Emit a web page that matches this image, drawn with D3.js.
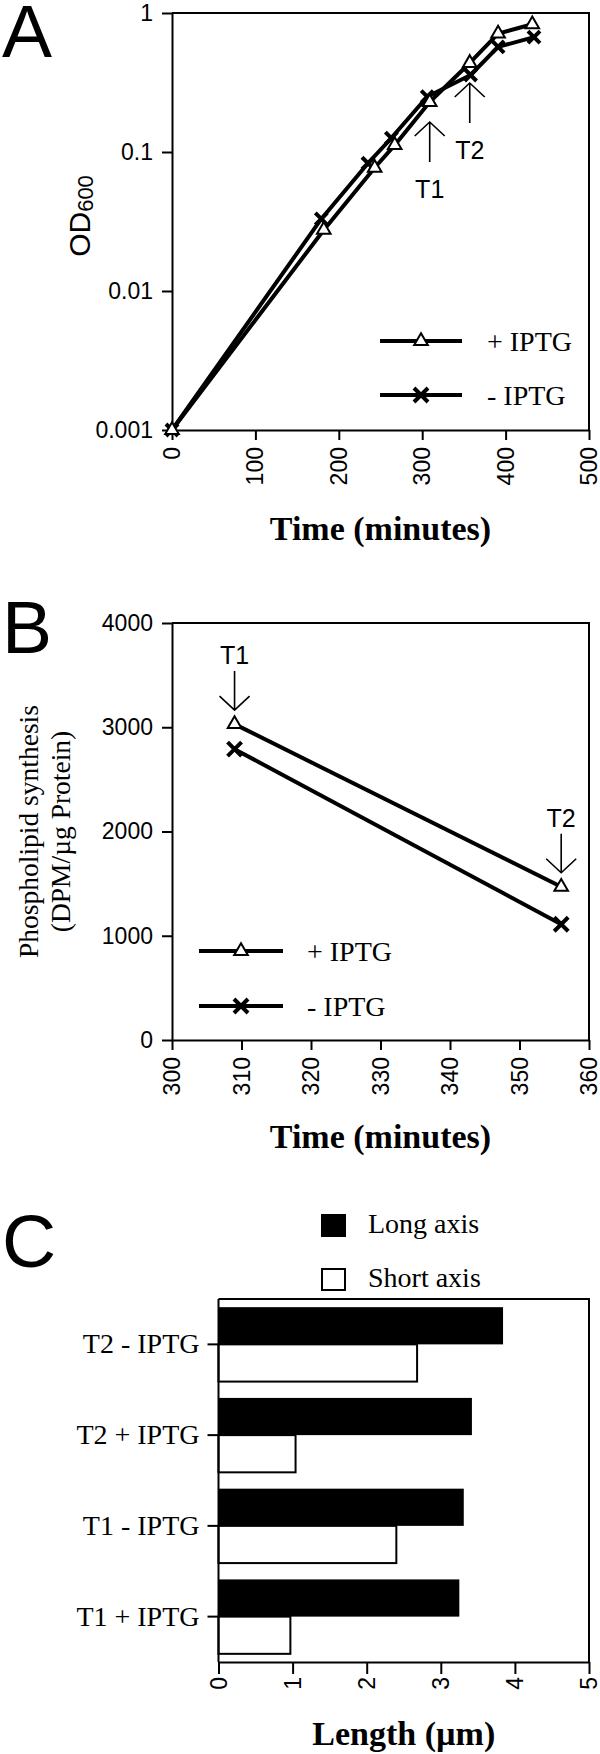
<!DOCTYPE html>
<html>
<head>
<meta charset="utf-8">
<script src="https://cdn.jsdelivr.net/npm/d3@7"></script>
<style>
  body { margin: 0; background: #fff; }
</style>
</head>
<body>
<div id="chart"></div>
<script>
// ---- data ----
var growthTimePlus  = [0, 182, 243, 267, 309, 357, 391, 432];
var growthODPlus    = [0.001, 0.0275, 0.077, 0.112, 0.229, 0.437, 0.71, 0.83];
var growthTimeMinus = [0, 179, 235, 263, 306, 358, 391, 434];
var growthODMinus   = [0.001, 0.033, 0.083, 0.126, 0.25, 0.358, 0.57, 0.67];
var odTicks = [0.001, 0.01, 0.1, 1];
var timeTicksA = [0, 100, 200, 300, 400, 500];

var synthTime  = [309, 356];
var synthPlus  = [3030, 1470];
var synthMinus = [2790, 1110];
var synthTicks = [0, 1000, 2000, 3000, 4000];
var timeTicksB = [300, 310, 320, 330, 340, 350, 360];

var cellGroups = ["T2 - IPTG", "T2 + IPTG", "T1 - IPTG", "T1 + IPTG"];
var longAxis   = [3.84, 3.42, 3.31, 3.25];
var shortAxis  = [2.68, 1.04, 2.40, 0.97];
var lengthTicks = [0, 1, 2, 3, 4, 5];

var seriesNames = ["+ IPTG", "- IPTG"];
var barNames = ["Long axis", "Short axis"];

// ---- layout ----
var svgWidth = 600, svgHeight = 1754;
var plotLeft = 172, plotRight = 589;
var aTop = 13, aBottom = 430;
var bTop = 623, bBottom = 1040;
var cLeft = 218.5, cTop = 1299, cBottom = 1662;

var sans = "'Liberation Sans', Arial, sans-serif";
var serif = "'Liberation Serif', 'Times New Roman', serif";
var intFmt = d3.format("d");

var svg = d3.select("#chart")
    .append("svg")
    .attr("width", svgWidth)
    .attr("height", svgHeight);

function styleAxis(g, tickFont, tickSize) {
    g.select(".domain").attr("stroke-width", 2);
    g.selectAll(".tick line").attr("stroke-width", 2);
    g.selectAll(".tick text")
        .attr("font-family", tickFont)
        .attr("font-size", tickSize)
        .attr("fill", "#000");
}

function rotateLabels(g, gap) {
    g.selectAll(".tick text")
        .attr("transform", "rotate(-90)")
        .attr("text-anchor", "end")
        .attr("x", -gap)
        .attr("y", 0)
        .attr("dy", "0.33em");
}

function frame(x1, y1, x2, y2) {
    svg.append("path")
        .attr("d", `M${x1},${y1}H${x2}V${y2}`)
        .attr("fill", "none")
        .attr("stroke", "#000")
        .attr("stroke-width", 2);
}

function crossPath(s) {
    return `M${-s},${-s}L${s},${s}M${-s},${s}L${s},${-s}`;
}
var triangle = d3.symbol().type(d3.symbolTriangle).size(80);

function drawTriangle(g, x, y) {
    g.append("path")
        .attr("d", triangle())
        .attr("transform", `translate(${x},${y})`)
        .attr("fill", "#fff")
        .attr("stroke", "#000")
        .attr("stroke-width", 2);
}
function drawCross(g, x, y, s) {
    g.append("path")
        .attr("d", crossPath(s))
        .attr("transform", `translate(${x},${y})`)
        .attr("stroke", "#000")
        .attr("stroke-width", 4);
}

function panelLabel(txt, y) {
    svg.append("text")
        .attr("x", 2).attr("y", y)
        .attr("font-family", sans)
        .attr("font-size", 75)
        .text(txt);
}

function arrow(g, x, yTail, yTip) {
    var dir = yTip > yTail ? -1 : 1;
    g.append("path")
        .attr("d", `M${x},${yTail}V${yTip}M${x - 15},${yTip + dir * 14}L${x},${yTip}L${x + 15},${yTip + dir * 14}`)
        .attr("fill", "none")
        .attr("stroke", "#000")
        .attr("stroke-width", 1.6);
}

function legendRow(x1, x2, y, kind, label, textX) {
    var g = svg.append("g");
    g.append("line")
        .attr("x1", x1).attr("x2", x2)
        .attr("y1", y).attr("y2", y)
        .attr("stroke", "#000").attr("stroke-width", 4);
    if (kind === "tri") drawTriangle(g, (x1 + x2) / 2, y);
    else drawCross(g, (x1 + x2) / 2, y, 7);
    g.append("text")
        .attr("x", textX).attr("y", y)
        .attr("dy", "0.35em")
        .attr("font-family", serif)
        .attr("font-size", 28)
        .text(label);
}

// ================= Panel A =================
var xA = d3.scaleLinear().domain([0, 500]).range([plotLeft, plotRight]);
var yA = d3.scaleLog().domain([0.001, 1]).range([aBottom, aTop]);

frame(plotLeft, aTop, plotRight, aBottom);

var axA = svg.append("g")
    .attr("transform", `translate(0,${aBottom})`)
    .call(d3.axisBottom(xA).tickValues(timeTicksA).tickFormat(intFmt).tickSize(10).tickSizeOuter(0));
styleAxis(axA, sans, 23);
rotateLabels(axA, 17);

var ayA = svg.append("g")
    .attr("transform", `translate(${plotLeft},0)`)
    .call(d3.axisLeft(yA).tickValues(odTicks).tickFormat(d => String(d)).tickSize(10).tickPadding(9).tickSizeOuter(0));
styleAxis(ayA, sans, 23);

var plusA = growthTimePlus.map((t, i) => [t, growthODPlus[i]]);
var minusA = growthTimeMinus.map((t, i) => [t, growthODMinus[i]]);
var lineA = d3.line().x(d => xA(d[0])).y(d => yA(d[1]));

var gA = svg.append("g");
[minusA, plusA].forEach(function (s) {
    gA.append("path")
        .attr("d", lineA(s))
        .attr("fill", "none")
        .attr("stroke", "#000")
        .attr("stroke-width", 4)
        .attr("stroke-linejoin", "round");
});
minusA.forEach(d => drawCross(gA, xA(d[0]), yA(d[1]), 6));
plusA.forEach(d => drawTriangle(gA, xA(d[0]), yA(d[1])));

// T1 / T2 arrows (pointing up at the sampling times)
[[4, "T1"], [5, "T2"]].forEach(function (a) {
    var x = xA(growthTimePlus[a[0]]);
    var tip = yA(growthODPlus[a[0]]) + 20;
    arrow(gA, x, tip + 40, tip);
    gA.append("text")
        .attr("x", x).attr("y", tip + 76)
        .attr("text-anchor", "middle")
        .attr("font-family", sans)
        .attr("font-size", 25)
        .text(a[1]);
});

legendRow(380, 462, 341, "tri", seriesNames[0], 487);
legendRow(380, 462, 395, "x", seriesNames[1], 487);

var odTitle = svg.append("text")
    .attr("transform", `translate(90,216) rotate(-90)`)
    .attr("text-anchor", "middle")
    .attr("font-family", sans)
    .attr("font-size", 30);
odTitle.append("tspan").text("OD");
odTitle.append("tspan").attr("dy", 3).attr("font-size", 22).text("600");

svg.append("text")
    .attr("x", (plotLeft + plotRight) / 2).attr("y", 540)
    .attr("text-anchor", "middle")
    .attr("font-family", serif)
    .attr("font-weight", "bold")
    .attr("font-size", 34)
    .text("Time (minutes)");

panelLabel("A", 57);

// ================= Panel B =================
var xB = d3.scaleLinear().domain([300, 360]).range([plotLeft, plotRight]);
var yB = d3.scaleLinear().domain([0, 4000]).range([bBottom, bTop]);

frame(plotLeft, bTop, plotRight, bBottom);

var axB = svg.append("g")
    .attr("transform", `translate(0,${bBottom})`)
    .call(d3.axisBottom(xB).tickValues(timeTicksB).tickFormat(intFmt).tickSize(10).tickSizeOuter(0));
styleAxis(axB, sans, 23);
rotateLabels(axB, 17);

var ayB = svg.append("g")
    .attr("transform", `translate(${plotLeft},0)`)
    .call(d3.axisLeft(yB).tickValues(synthTicks).tickFormat(intFmt).tickSize(10).tickPadding(9).tickSizeOuter(0));
styleAxis(ayB, sans, 23);

var lineB = d3.line().x(d => xB(d[0])).y(d => yB(d[1]));
var plusB = synthTime.map((t, i) => [t, synthPlus[i]]);
var minusB = synthTime.map((t, i) => [t, synthMinus[i]]);

var gB = svg.append("g");
[plusB, minusB].forEach(function (s) {
    gB.append("path")
        .attr("d", lineB(s))
        .attr("fill", "none")
        .attr("stroke", "#000")
        .attr("stroke-width", 4);
});
minusB.forEach(d => drawCross(gB, xB(d[0]), yB(d[1]), 7));
plusB.forEach(d => drawTriangle(gB, xB(d[0]), yB(d[1])));

// arrows pointing down at T1 and T2
[[0, "T1"], [1, "T2"]].forEach(function (a) {
    var x = xB(synthTime[a[0]]);
    var tip = yB(synthPlus[a[0]]) - 14;
    arrow(gB, x, tip - 39, tip);
    gB.append("text")
        .attr("x", x).attr("y", tip - 46)
        .attr("text-anchor", "middle")
        .attr("font-family", sans)
        .attr("font-size", 25)
        .text(a[1]);
});

legendRow(199, 283, 951, "tri", seriesNames[0], 307);
legendRow(199, 283, 1006, "x", seriesNames[1], 307);

var yTitleB = [["Phospholipid synthesis", 38], ["(DPM/\u00b5g Protein)", 70]];
yTitleB.forEach(function (t) {
    svg.append("text")
        .attr("transform", `translate(${t[1]},${(bTop + bBottom) / 2}) rotate(-90)`)
        .attr("text-anchor", "middle")
        .attr("font-family", serif)
        .attr("font-size", 27.5)
        .text(t[0]);
});

svg.append("text")
    .attr("x", (plotLeft + plotRight) / 2).attr("y", 1148)
    .attr("text-anchor", "middle")
    .attr("font-family", serif)
    .attr("font-weight", "bold")
    .attr("font-size", 34)
    .text("Time (minutes)");

panelLabel("B", 653);

// ================= Panel C =================
var xC = d3.scaleLinear().domain([0, 5]).range([cLeft, plotRight]);
var yC = d3.scaleBand().domain(cellGroups).range([cTop, cBottom])
    .paddingInner(0.18).paddingOuter(0.09);
var ySub = d3.scaleBand().domain(barNames).range([0, yC.bandwidth()]);

frame(cLeft, cTop, plotRight, cBottom);

var gC = svg.append("g");
cellGroups.forEach(function (c, i) {
    gC.append("rect")
        .attr("x", xC(0)).attr("y", yC(c) + ySub(barNames[0]))
        .attr("width", xC(longAxis[i]) - xC(0))
        .attr("height", ySub.bandwidth())
        .attr("fill", "#000");
    gC.append("rect")
        .attr("x", xC(0)).attr("y", yC(c) + ySub(barNames[1]))
        .attr("width", xC(shortAxis[i]) - xC(0))
        .attr("height", ySub.bandwidth())
        .attr("fill", "#fff")
        .attr("stroke", "#000")
        .attr("stroke-width", 2);
});

var axC = svg.append("g")
    .attr("transform", `translate(0,${cBottom})`)
    .call(d3.axisBottom(xC).tickValues(lengthTicks).tickFormat(intFmt).tickSize(12).tickSizeOuter(0));
styleAxis(axC, sans, 23);
rotateLabels(axC, 15);

var ayC = svg.append("g")
    .attr("transform", `translate(${cLeft},0)`)
    .call(d3.axisLeft(yC).tickSize(11).tickPadding(8).tickSizeOuter(0));
styleAxis(ayC, serif, 28);
ayC.select(".domain").remove();
svg.append("line")
    .attr("x1", cLeft).attr("x2", cLeft)
    .attr("y1", cTop).attr("y2", cBottom)
    .attr("stroke", "#000").attr("stroke-width", 2);

// legend
[[barNames[0], "#000", 1215], [barNames[1], "#fff", 1269]].forEach(function (l) {
    svg.append("rect")
        .attr("x", 322).attr("y", l[2])
        .attr("width", 23).attr("height", 21)
        .attr("fill", l[1])
        .attr("stroke", "#000")
        .attr("stroke-width", 2);
    svg.append("text")
        .attr("x", 368).attr("y", l[2] + 18)
        .attr("font-family", serif)
        .attr("font-size", 28)
        .text(l[0]);
});

svg.append("text")
    .attr("x", (cLeft + plotRight) / 2).attr("y", 1745)
    .attr("text-anchor", "middle")
    .attr("font-family", serif)
    .attr("font-weight", "bold")
    .attr("font-size", 34)
    .text("Length (\u00b5m)");

panelLabel("C", 1267);
</script>
</body>
</html>
